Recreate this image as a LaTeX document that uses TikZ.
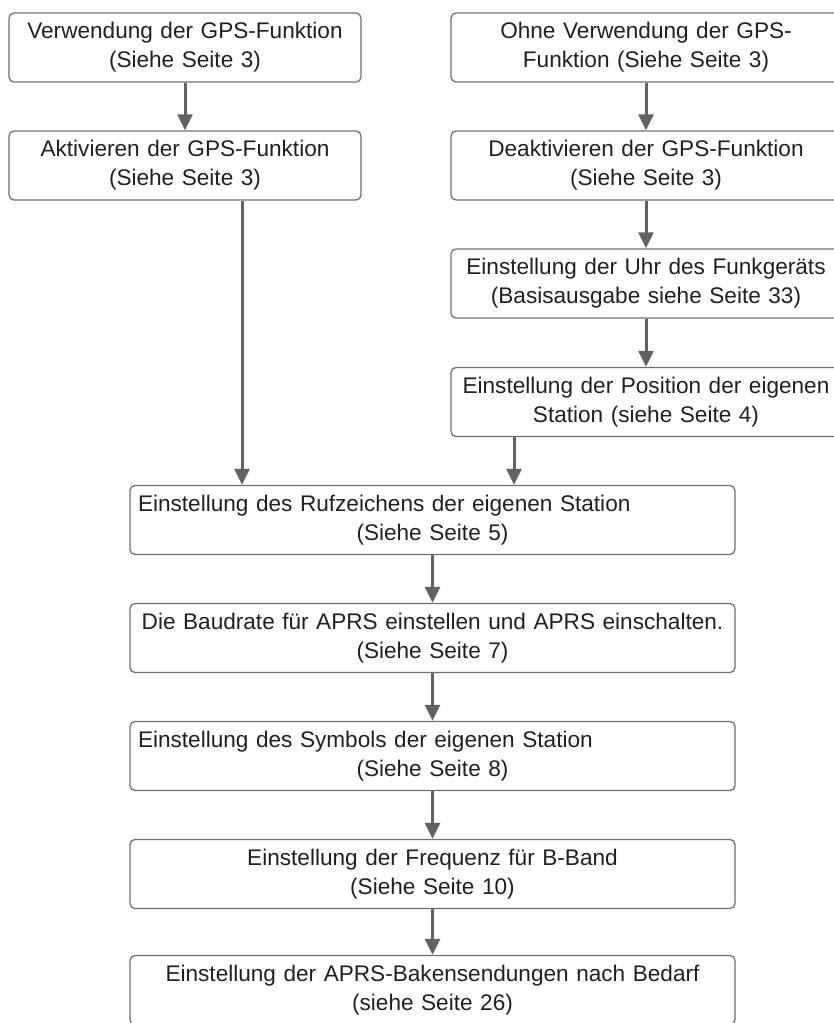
\documentclass[tikz,border=0pt]{standalone}
\usepackage{fontspec}
\setmainfont{Liberation Sans}
\usetikzlibrary{arrows.meta, positioning}
\definecolor{boxgray}{RGB}{112,112,112}
\definecolor{arrowgray}{RGB}{98,98,102}
\definecolor{textdark}{RGB}{35,31,32}

\begin{document}
\begin{tikzpicture}[x=1pt, y=-1pt,
  stepbox/.style={draw=boxgray, line width=1.3pt, rounded corners=5pt,
    minimum height=69pt, inner xsep=8pt, inner ysep=0pt, align=center,
    text=textdark, font=\fontsize{22.6}{29}\selectfont},
  flow/.style={draw=arrowgray, line width=3pt,
    -{Triangle[length=16pt, width=15pt]}}]
  \clip (0,0) rectangle (834,1023);

  % Left branch: with GPS
  \node[stepbox, text width=336pt] (gpsOn) at (185,47.5)
    {Verwendung der GPS-Funktion\\(Siehe Seite 3)};
  \node[stepbox, text width=336pt] (gpsAct) at (185,165.5)
    {Aktivieren der GPS-Funktion\\(Siehe Seite 3)};

  % Right branch: without GPS
  \node[stepbox, text width=374pt] (gpsOff) at (646,47.5)
    {Ohne Verwendung der GPS-\\Funktion (Siehe Seite 3)};
  \node[stepbox, text width=374pt] (gpsDeact) at (646,165.5)
    {Deaktivieren der GPS-Funktion\\(Siehe Seite 3)};
  \node[stepbox, text width=374pt] (clock) at (646,283.5)
    {Einstellung der Uhr des Funkgeräts\\(Basisausgabe siehe Seite 33)};
  \node[stepbox, text width=374pt] (position) at (646,402)
    {Einstellung der Position der eigenen\\Station (siehe Seite 4)};

  % Common chain
  \node[stepbox, text width=589pt] (callsign) at (432.5,520)
    {\makebox[\hsize][l]{Einstellung des Rufzeichens der eigenen Station}\\(Siehe Seite 5)};
  \node[stepbox, text width=589pt] (baud) at (432.5,638)
    {Die Baudrate für APRS einstellen und APRS einschalten.\\(Siehe Seite 7)};
  \node[stepbox, text width=589pt] (symbol) at (432.5,756)
    {\makebox[\hsize][l]{Einstellung des Symbols der eigenen Station}\\(Siehe Seite 8)};
  \node[stepbox, text width=589pt] (freq) at (432.5,874)
    {Einstellung der Frequenz für B-Band\\(Siehe Seite 10)};
  \node[stepbox, text width=589pt] (beacon) at (432.5,990)
    {Einstellung der APRS-Bakensendungen nach Bedarf\\(siehe Seite 26)};

  % Arrows
  \foreach \a/\b in {gpsOn/gpsAct, gpsOff/gpsDeact, gpsDeact/clock,
      clock/position, callsign/baud, baud/symbol, symbol/freq, freq/beacon}
    \draw[flow] (\a) -- (\b);
  \draw[flow] ([xshift=57pt]gpsAct.south)
    -- ([xshift=57pt]gpsAct.south |- callsign.north);
  \draw[flow] ([xshift=-132pt]position.south)
    -- ([xshift=-132pt]position.south |- callsign.north);
\end{tikzpicture}
\end{document}
